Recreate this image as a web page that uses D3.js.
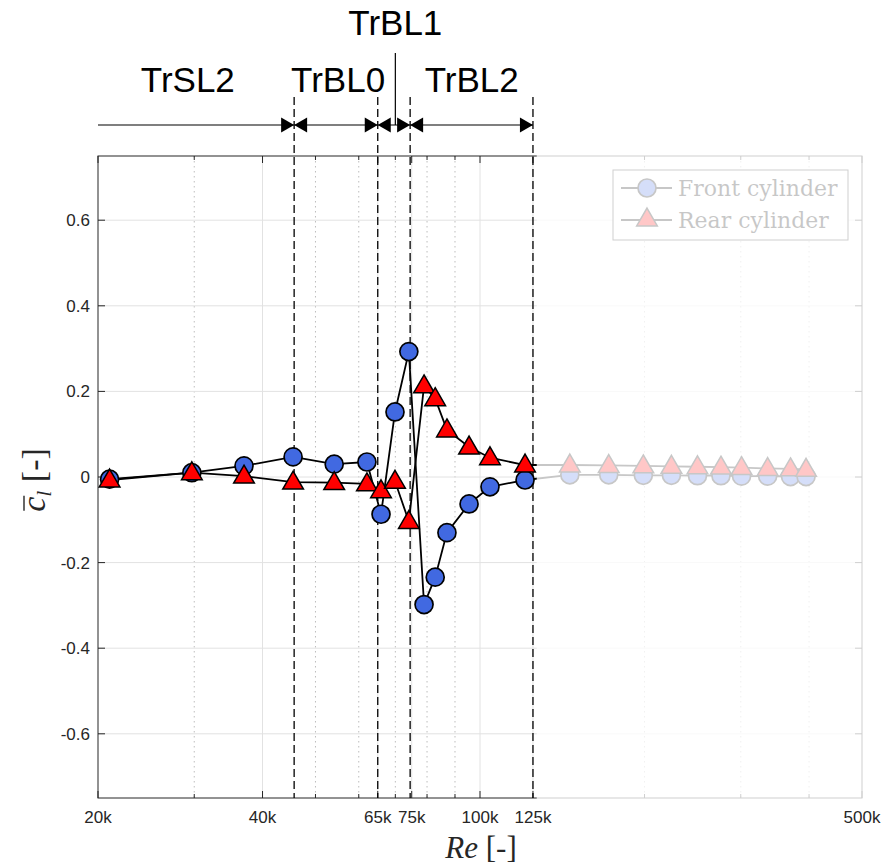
<!DOCTYPE html>
<html>
<head>
<meta charset="utf-8">
<script src="https://cdn.jsdelivr.net/npm/d3@7"></script>
<style>
  html, body { margin: 0; padding: 0; background: #fff; }
  svg { display: block; }
</style>
</head>
<body>
<div id="chart"></div>
<script>
// ---------------- DATA ----------------
const reValues = [21000, 29700, 37000, 45500, 54100, 62100, 65900, 69900, 74100, 79000,
                  82800, 87000, 95500, 104300, 120900,
                  146000, 172000, 199000, 224000, 250000, 276000, 301000, 336000, 370000, 395000];
const frontCl = [-0.005, 0.010, 0.026, 0.047, 0.030, 0.035, -0.087, 0.152, 0.293, -0.298,
                 -0.234, -0.130, -0.063, -0.023, -0.007,
                 0.005, 0.005, 0.004, 0.004, 0.003, 0.003, 0.002, 0.002, 0.001, 0.001];
const rearCl  = [-0.007, 0.010, 0.002, -0.012, -0.013, -0.016, -0.032, -0.010, -0.104, 0.213,
                 0.183, 0.110, 0.070, 0.045, 0.028,
                 0.028, 0.027, 0.026, 0.025, 0.024, 0.023, 0.022, 0.020, 0.019, 0.018];
const seriesNames = ["Front cylinder", "Rear cylinder"];

const xTickValues = [20000, 40000, 65000, 75000, 100000, 125000, 500000];
const xTickLabels = ["20k", "40k", "65k", "75k", "100k", "125k", "500k"];
const xMinorValues = [30000, 50000, 60000, 70000, 80000, 90000, 200000, 300000, 400000];
const yTickValues = [-0.6, -0.4, -0.2, 0, 0.2, 0.4, 0.6];
const yTickLabels = ["-0.6", "-0.4", "-0.2", "0", "0.2", "0.4", "0.6"];

const regionBounds = [45700, 65000, 74500, 125000];
const regionNames = ["TrSL2", "TrBL0", "TrBL1", "TrBL2"];
const regionLabelRe = [29200, 55000, 70000, 96600];
const trbl1MarkRe = 70000;
const fadeStartRe = 127000;

// ---------------- LAYOUT ----------------
const W = 886, H = 868;
const L = 98, R = 862, T = 156, B = 798;

const svg = d3.select("#chart").append("svg").attr("width", W).attr("height", H);

const x = d3.scaleLog().domain([20000, 500000]).range([L, R]);
const y = d3.scaleLinear().domain([-0.75, 0.75]).range([B, T]);

const sans = "'Liberation Sans', Arial, Helvetica, sans-serif";
const serif = "'DejaVu Serif', 'Liberation Serif', serif";
const axisColor = "#262626";

// grid
const grid = svg.append("g");
grid.selectAll(".gmin").data(xMinorValues).join("line")
  .attr("x1", d => x(d)).attr("x2", d => x(d)).attr("y1", T).attr("y2", B)
  .attr("stroke", "#bdbdbd").attr("stroke-width", 1).attr("stroke-dasharray", "1.5,3.5");
grid.selectAll(".gmaj").data(xTickValues.slice(1, -1)).join("line")
  .attr("x1", d => x(d)).attr("x2", d => x(d)).attr("y1", T).attr("y2", B)
  .attr("stroke", "#e2e2e2").attr("stroke-width", 1);
grid.selectAll(".gy").data(yTickValues).join("line")
  .attr("x1", L).attr("x2", R).attr("y1", d => y(d)).attr("y2", d => y(d))
  .attr("stroke", "#e2e2e2").attr("stroke-width", 1);

// frame + ticks
const frame = svg.append("g");
frame.append("rect").attr("x", L).attr("y", T).attr("width", R - L).attr("height", B - T)
  .attr("fill", "none").attr("stroke", axisColor).attr("stroke-width", 1);
const tk = frame.append("g").attr("stroke", axisColor).attr("stroke-width", 1);
xTickValues.forEach(v => {
  tk.append("line").attr("x1", x(v)).attr("x2", x(v)).attr("y1", B).attr("y2", B - 7);
  tk.append("line").attr("x1", x(v)).attr("x2", x(v)).attr("y1", T).attr("y2", T + 7);
});
xMinorValues.forEach(v => {
  tk.append("line").attr("x1", x(v)).attr("x2", x(v)).attr("y1", B).attr("y2", B - 4);
  tk.append("line").attr("x1", x(v)).attr("x2", x(v)).attr("y1", T).attr("y2", T + 4);
});
yTickValues.forEach(v => {
  tk.append("line").attr("x1", L).attr("x2", L + 7).attr("y1", y(v)).attr("y2", y(v));
  tk.append("line").attr("x1", R).attr("x2", R - 7).attr("y1", y(v)).attr("y2", y(v));
});

// tick labels
svg.append("g").selectAll("text").data(xTickValues).join("text")
  .attr("x", d => x(d)).attr("y", B + 25)
  .attr("text-anchor", "middle").attr("font-family", sans).attr("font-size", 17)
  .attr("fill", axisColor).text((d, i) => xTickLabels[i]);
svg.append("g").selectAll("text").data(yTickValues).join("text")
  .attr("x", L - 8).attr("y", d => y(d)).attr("dy", "0.35em")
  .attr("text-anchor", "end").attr("font-family", sans).attr("font-size", 17)
  .attr("fill", axisColor).text((d, i) => yTickLabels[i]);

// region dashed lines
svg.append("g").selectAll("line").data(regionBounds).join("line")
  .attr("x1", d => x(d)).attr("x2", d => x(d)).attr("y1", 97).attr("y2", B)
  .attr("stroke", "#000").attr("stroke-width", 1.3).attr("stroke-dasharray", "8,4");

// data lines and markers
const pts = reValues.map((r, i) => ({ r, f: frontCl[i], b: rearCl[i] }));
const line = key => d3.line().x(d => x(d.r)).y(d => y(d[key]));
const dataG = svg.append("g");
dataG.append("path").datum(pts).attr("d", line("f"))
  .attr("fill", "none").attr("stroke", "#000").attr("stroke-width", 1.8);
dataG.append("path").datum(pts).attr("d", line("b"))
  .attr("fill", "none").attr("stroke", "#000").attr("stroke-width", 1.8);
dataG.selectAll(".circ").data(pts).join("circle")
  .attr("cx", d => x(d.r)).attr("cy", d => y(d.f)).attr("r", 9)
  .attr("fill", "#4169e1").attr("stroke", "#000").attr("stroke-width", 1.7);
const tri = d3.symbol().type(d3.symbolTriangle).size(185);
dataG.selectAll(".tri").data(pts).join("path")
  .attr("d", tri)
  .attr("transform", d => `translate(${x(d.r)},${y(d.b) + 1})`)
  .attr("fill", "#ff0000").attr("stroke", "#000").attr("stroke-width", 1.5);

// legend
const lg = svg.append("g");
lg.append("rect").attr("x", 613).attr("y", 170).attr("width", 235).attr("height", 70)
  .attr("fill", "#fff").attr("stroke", axisColor).attr("stroke-width", 1);
[0, 1].forEach(i => {
  const cy = 188 + i * 32;
  lg.append("line").attr("x1", 621).attr("x2", 672).attr("y1", cy).attr("y2", cy)
    .attr("stroke", "#000").attr("stroke-width", 1.8);
  if (i === 0) {
    lg.append("circle").attr("cx", 647).attr("cy", cy).attr("r", 9)
      .attr("fill", "#4169e1").attr("stroke", "#000").attr("stroke-width", 1.7);
  } else {
    lg.append("path").attr("d", tri).attr("transform", `translate(647,${cy})`)
      .attr("fill", "#ff0000").attr("stroke", "#000").attr("stroke-width", 1.5);
  }
  lg.append("text").attr("x", 678).attr("y", cy).attr("dy", "0.36em")
    .attr("font-family", serif).attr("font-size", 22).attr("fill", "#000")
    .text(seriesNames[i]);
});

// fade overlay
svg.append("rect").attr("x", x(fadeStartRe)).attr("y", T - 2)
  .attr("width", R + 3 - x(fadeStartRe)).attr("height", B - T + 4)
  .attr("fill", "#fff").attr("opacity", 0.78);

// region annotations (arrows)
const ann = svg.append("g");
const ay = 125;
const bx = regionBounds.map(d => x(d));
const mx = x(trbl1MarkRe);
const segs = [[L, bx[0], false, true], [bx[0], bx[1], true, true], [bx[1], bx[2], true, true], [bx[2], bx[3], true, true]];
const aw = 13, ah = 7.5;
segs.forEach(([a, b, la, ra]) => {
  ann.append("line").attr("x1", a).attr("x2", b).attr("y1", ay).attr("y2", ay)
    .attr("stroke", "#000").attr("stroke-width", 1.2);
  if (la) ann.append("path").attr("d", `M${a},${ay} L${a + aw},${ay - ah} L${a + aw},${ay + ah} Z`).attr("fill", "#000");
  if (ra) ann.append("path").attr("d", `M${b},${ay} L${b - aw},${ay - ah} L${b - aw},${ay + ah} Z`).attr("fill", "#000");
});
ann.append("line").attr("x1", mx).attr("x2", mx).attr("y1", 53).attr("y2", ay)
  .attr("stroke", "#000").attr("stroke-width", 1.2);
regionNames.forEach((n, i) => {
  ann.append("text").attr("x", x(regionLabelRe[i])).attr("y", i === 2 ? 35 : 92)
    .attr("text-anchor", "middle").attr("font-family", sans).attr("font-size", 35)
    .attr("fill", "#000").text(n);
});

// x axis label
const xl = svg.append("text").attr("x", 481).attr("y", 858).attr("text-anchor", "middle")
  .attr("font-family", "'Liberation Serif', 'DejaVu Serif', serif").attr("font-size", 31).attr("fill", axisColor);
xl.append("tspan").attr("font-style", "italic").text("Re");
xl.append("tspan").text(" [-]");

// y axis label
const yg = svg.append("g").attr("transform", "translate(45,480) rotate(-90)");
const yt = yg.append("text").attr("x", 0).attr("y", 0).attr("text-anchor", "middle")
  .attr("font-family", "'Liberation Serif', 'DejaVu Serif', serif").attr("font-size", 34).attr("fill", axisColor);
yt.append("tspan").attr("font-style", "italic").text("c");
yt.append("tspan").attr("font-style", "italic").attr("font-size", 22).attr("dy", 6).text("l");
yt.append("tspan").attr("dy", -6).text(" [-]");
const ext = yt.node().getExtentOfChar(0);
yg.append("line").attr("x1", ext.x + 1).attr("x2", ext.x + ext.width + 1)
  .attr("y1", -21).attr("y2", -21).attr("stroke", axisColor).attr("stroke-width", 1.4);
</script>
</body>
</html>
